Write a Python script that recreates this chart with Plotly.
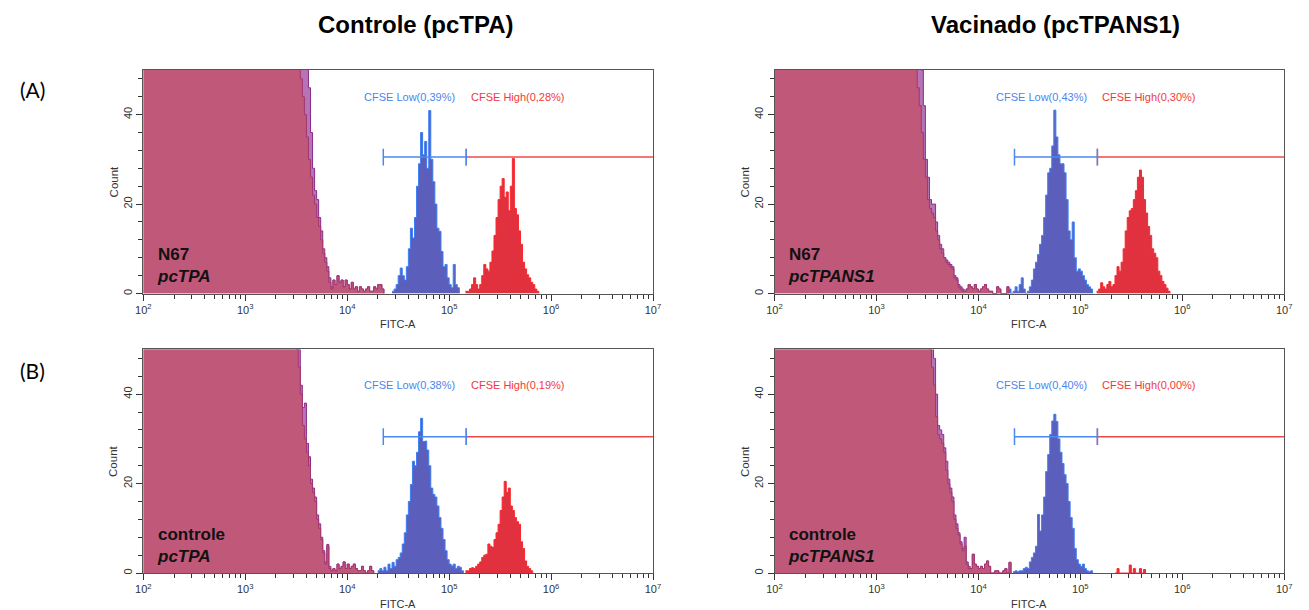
import plotly.graph_objects as go

# ---------------------------------------------------------------- data
BIN_STEP = 0.02          # width of one FITC channel, in log10 units
OFFSCALE = 400           # counts left of the steep edge are far above the 50-count axis

COLUMN_TITLES = ["Controle (pcTPA)", "Vacinado (pcTPANS1)"]
ROW_LABELS = ["(A)", "(B)"]
SAMPLES = ["N67", "N67", "controle", "controle"]
PLASMIDS = ["pcTPA", "pcTPANS1", "pcTPA", "pcTPANS1"]
LOW_PCT = ["0,39%", "0,43%", "0,38%", "0,40%"]
HIGH_PCT = ["0,28%", "0,30%", "0,19%", "0,00%"]

GATE_LOW_FROM = 22600
GATE_SPLIT = 147000
GATE_HIGH_TO = 1e7
GATE_COUNT = 30.5

X_TICKS = [1e2, 1e3, 1e4, 1e5, 1e6, 1e7]
X_TICK_TEXT = ["10<sup>2</sup>", "10<sup>3</sup>", "10<sup>4</sup>",
               "10<sup>5</sup>", "10<sup>6</sup>", "10<sup>7</sup>"]
Y_TICKS = [0, 20, 40]

# Panel A / pcTPA
A1_BG_START = 3.48
A1_BG_MAROON = [60, 57, 52, 48, 44, 40, 35, 30, 26, 22, 20, 17, 15, 12, 9, 7, 5, 2.5, 1]
A1_BG_PURPLE = [60, 58, 57, 56, 55, 53, 51, 46, 36, 28, 23, 21, 17, 14, 10, 8, 6, 3.5, 1.5]
A1_BG_TAIL = [3, 2, 4, 2.5, 3, 1.5, 3, 2, 1, 2.5, 1, 1.5, 0.5, 1.5, 1, 0.5, 1, 1.5, 0.5,
              0.5, 1.5, 1, 2, 2, 1, 0]
A1_LOW_START = 4.44
A1_LOW = [0.5, 1, 2, 4, 5.7, 4, 3, 6, 10, 14.6, 12.4, 17, 24, 29, 36, 31, 34, 28, 40.9, 30,
          25, 20, 14.6, 13.9, 9.4, 6, 6.5, 3.5, 2, 1.3, 6.5, 2, 1.3, 0]
A1_HIGH_START = 5.16
A1_HIGH = [0.5, 0.5, 1, 2, 3.5, 2, 1, 2, 4, 6.5, 5.5, 5, 7, 9.5, 13, 17, 21, 24, 25.7, 21.5,
           22.7, 18.5, 24, 30.2, 19, 17.6, 14, 11, 7, 5.5, 4.2, 3.5, 2.5, 2, 1, 0.5, 0]

# Panel A / pcTPANS1
A2_BG_START = 3.34
A2_BG_MAROON = [60, 56, 52, 46, 42, 36, 30, 26, 21, 19, 18, 17, 14, 12, 10, 9, 8, 7, 6.5,
                6, 5.5, 3.5, 3, 1.5, 1, 0.5]
A2_BG_PURPLE = [60, 58, 56, 54, 52, 50, 42, 30, 26, 21, 20, 20, 16, 13, 11, 10, 8, 7.5, 7,
                6.5, 6, 4, 3.5, 2, 1.5, 1]
A2_BG_TAIL = [0.5, 1, 2, 1.5, 1, 2, 1, 0.5, 1, 1.5, 2, 1, 0.5, 0.5, 0, 0, 1.5, 1, 0, 0, 0,
              1.5, 0]
A2_LOW_START = 4.30
A2_LOW = [1, 0, 0.5, 1.5, 0.5, 2, 3.5, 1, 0, 0.5, 1.5, 3, 5.5, 7, 8.7, 11, 13, 17, 22, 27,
          28, 33, 41, 35, 31, 29, 29, 27, 21, 14, 12, 16, 8, 5, 5.5, 5, 4, 3, 2, 1.5, 1, 0]
A2_HIGH_START = 5.16
A2_HIGH = [0.5, 1, 2.4, 1.5, 1, 2, 2.7, 1.5, 2, 4, 6, 5, 7, 10, 14, 17, 18.5, 19, 21, 23,
           26, 27.6, 26, 21, 18, 15, 13, 10, 9, 8, 5, 4, 2.7, 2, 1.2, 0.5, 0]

# Panel B / pcTPA
B1_BG_START = 3.48
B1_BG_MAROON = [60, 50, 46, 40, 33, 30, 27, 24, 20, 18, 16, 12, 10, 7.5, 4.5, 2, 6, 1, 0.5]
B1_BG_PURPLE = [60, 55, 50, 42, 37, 38, 29, 26, 21, 19, 17, 13, 11, 8, 5, 2.5, 6.4, 1.5, 0.5]
B1_BG_TAIL = [1, 0.5, 2, 1, 1.5, 2.5, 1, 2, 1, 1.5, 2, 1, 0.5, 0.5, 1.5, 0.5, 0, 0.5, 1.5,
              0.5, 0]
B1_LOW_START = 4.30
B1_LOW = [0.5, 1, 0.5, 1.3, 0.5, 2, 1, 2.4, 1.5, 3, 3.5, 4.5, 6.5, 9, 13, 16, 19.8, 25, 24,
          27, 31.6, 34.6, 29.4, 29.5, 27.5, 24, 19, 17.6, 17, 15, 12.4, 10, 7.5, 5, 3, 2,
          1.6, 2, 1, 1.5, 1.3, 0.5, 0]
B1_HIGH_START = 5.16
B1_HIGH = [0.5, 0.5, 1, 1.2, 1, 1.5, 2, 2.5, 3.5, 4, 4.2, 6.5, 6, 5.7, 7.5, 9, 10.9, 14, 17,
           20.5, 18, 19, 15, 14, 12.4, 11.5, 10.9, 7, 5.5, 2.7, 1.5, 1, 0.5, 0]

# Panel B / pcTPANS1
B2_BG_START = 3.48
B2_BG_MAROON = [60, 60, 50, 46, 42, 35, 31, 30, 29, 27, 23, 20, 18, 16, 12, 10, 8.5, 6.5, 5,
                6, 2, 1]
B2_BG_PURPLE = [60, 60, 54, 52, 48, 40, 33, 32, 31, 28, 25, 21, 19, 17, 13, 11, 9, 7, 5.5,
                8, 2.5, 1.5]
B2_BG_TAIL = [1, 4.2, 2, 1.5, 1, 1.5, 1, 2, 2.7, 1.5, 0, 0, 0.5, 0.5, 0, 0, 0.5, 1, 0, 2.4, 0]
B2_LOW_START = 4.34
B2_LOW = [0.3, 0.5, 0.3, 0.5, 0.5, 1, 1.3, 1, 2.5, 3.5, 4.5, 6, 13.1, 9.4, 13, 17, 22.7,
          26.5, 31, 34, 35.5, 33.9, 30, 27, 24.5, 22, 20, 16, 12.4, 10, 5.5, 3, 2, 1.5, 2, 1,
          0.5, 0.3, 0.5, 0]
B2_HIGH_START = 5.34
B2_HIGH = [0, 1, 0, 0, 0, 0, 0, 1.8, 0, 1, 0, 0, 1, 0, 0.8, 0]

PANEL_DATA = [
    (A1_BG_START, A1_BG_MAROON, A1_BG_PURPLE, A1_BG_TAIL, A1_LOW_START, A1_LOW, A1_HIGH_START, A1_HIGH),
    (A2_BG_START, A2_BG_MAROON, A2_BG_PURPLE, A2_BG_TAIL, A2_LOW_START, A2_LOW, A2_HIGH_START, A2_HIGH),
    (B1_BG_START, B1_BG_MAROON, B1_BG_PURPLE, B1_BG_TAIL, B1_LOW_START, B1_LOW, B1_HIGH_START, B1_HIGH),
    (B2_BG_START, B2_BG_MAROON, B2_BG_PURPLE, B2_BG_TAIL, B2_LOW_START, B2_LOW, B2_HIGH_START, B2_HIGH),
]

# ---------------------------------------------------------------- layout / style
W, H = 1309, 610
FONT = "Liberation Sans, Arial, sans-serif"
COL_X = [(137, 653), (776, 1292)]      # pixel extents of the plot areas
ROW_Y = [(70, 294), (350, 574)]

C_MAROON_FILL = "#c0587a"
C_MAROON_LINE = "#a3356f"
C_PURPLE_FILL = "#b574b6"
C_PURPLE_LINE = "#8a2c8c"
C_BLUE_FILL = "#5b5fbb"
C_BLUE_LINE = "#3d7ef2"
C_RED_FILL = "#e1303e"
C_RED_LINE = "#f7282e"
C_GATE_BLUE = "#4a88f2"
C_GATE_RED = "#f04848"
C_TXT_BLUE = "#4a86ee"
C_TXT_RED = "#f03a3a"


def channels(start, counts):
    return [10 ** (start + i * BIN_STEP) for i in range(len(counts))]


fig = go.Figure()

minor_x = [k * 10 ** d for d in range(2, 7) for k in range(2, 10)]

for p, (bg_start, maroon, purple, tail, lo_start, lo, hi_start, hi) in enumerate(PANEL_DATA):
    row, col = divmod(p, 2)
    suffix = "" if p == 0 else str(p + 1)
    xa, ya = "x" + suffix, "y" + suffix
    x0, x1 = COL_X[col]
    y0, y1 = ROW_Y[row]

    bg_x = [10 ** 2] + channels(bg_start, maroon + tail)
    for counts, fill, line in ((purple, C_PURPLE_FILL, C_PURPLE_LINE),
                               (maroon, C_MAROON_FILL, C_MAROON_LINE)):
        fig.add_trace(go.Scatter(
            x=bg_x, y=[OFFSCALE] + counts + tail, xaxis=xa, yaxis=ya,
            mode="lines", line=dict(shape="hv", color=line, width=1),
            fill="tozeroy", fillcolor=fill, hoverinfo="skip", showlegend=False))

    fig.add_trace(go.Scatter(
        x=channels(lo_start, lo), y=lo, xaxis=xa, yaxis=ya, mode="lines",
        line=dict(shape="hv", color=C_BLUE_LINE, width=1),
        fill="tozeroy", fillcolor=C_BLUE_FILL, showlegend=False))
    fig.add_trace(go.Scatter(
        x=channels(hi_start, hi), y=hi, xaxis=xa, yaxis=ya, mode="lines",
        line=dict(shape="hv", color=C_RED_LINE, width=1),
        fill="tozeroy", fillcolor=C_RED_FILL, showlegend=False))

    # gates
    fig.add_trace(go.Scatter(
        x=[GATE_SPLIT, GATE_HIGH_TO], y=[GATE_COUNT, GATE_COUNT], xaxis=xa, yaxis=ya,
        mode="lines+markers", line=dict(color=C_GATE_RED, width=1.5),
        marker=dict(symbol="line-ns", size=[12, 0], line=dict(width=1.5, color=C_GATE_RED)),
        showlegend=False))
    fig.add_trace(go.Scatter(
        x=[GATE_LOW_FROM, GATE_SPLIT], y=[GATE_COUNT, GATE_COUNT], xaxis=xa, yaxis=ya,
        mode="lines+markers", line=dict(color=C_GATE_BLUE, width=1.5),
        marker=dict(symbol="line-ns", size=12, line=dict(width=1.5, color=C_GATE_BLUE)),
        showlegend=False))

    xdom = [x0 / W, x1 / W]
    ydom = [1 - y1 / H, 1 - y0 / H]
    fig.update_layout(**{
        "xaxis" + suffix: dict(
            domain=xdom, anchor=ya, type="log", range=[2, 7],
            tickmode="array", tickvals=X_TICKS, ticktext=X_TICK_TEXT,
            ticks="outside", ticklen=6, tickwidth=1, tickcolor="#333",
            minor=dict(tickmode="array", tickvals=minor_x, ticks="outside",
                       ticklen=4, tickcolor="#333", showgrid=False),
            showline=True, linecolor="#555", linewidth=1, mirror=True,
            showgrid=False, zeroline=False,
            tickfont=dict(family=FONT, size=11, color="#333")),
        "yaxis" + suffix: dict(
            domain=ydom, anchor=xa, range=[0, 50],
            tickmode="array", tickvals=Y_TICKS, tickangle=-90,
            ticks="outside", ticklen=6, tickwidth=1, tickcolor="#333",
            minor=dict(dtick=4, tick0=0, ticks="outside", ticklen=4,
                       tickcolor="#333", showgrid=False),
            showline=True, linecolor="#555", linewidth=1, mirror=True,
            showgrid=False, zeroline=False,
            tickfont=dict(family=FONT, size=11, color="#333")),
    })

    dref = xa + " domain"
    yref = ya + " domain"
    lab_y = 0.88 if row == 0 else 0.84
    fig.add_annotation(text="CFSE Low(" + LOW_PCT[p] + ")", xref=dref, yref=yref,
                       x=0.430, y=lab_y, xanchor="left", yanchor="middle", showarrow=False,
                       font=dict(family=FONT, size=11, color=C_TXT_BLUE))
    fig.add_annotation(text="CFSE High(" + HIGH_PCT[p] + ")", xref=dref, yref=yref,
                       x=0.638, y=lab_y, xanchor="left", yanchor="middle", showarrow=False,
                       font=dict(family=FONT, size=11, color=C_TXT_RED))
    fig.add_annotation(text="<b>" + SAMPLES[p] + "</b><br><b><i>" + PLASMIDS[p] + "</i></b>",
                       xref=dref, yref=yref, x=0.022, y=0.125, xanchor="left",
                       yanchor="middle", align="left", showarrow=False,
                       font=dict(family=FONT, size=17, color="#111"))
    fig.add_annotation(text="FITC-A", xref=dref, yref="paper", x=0.5,
                       y=1 - (y1 + 31) / H, xanchor="center", yanchor="middle",
                       showarrow=False, font=dict(family=FONT, size=11, color="#333"))
    fig.add_annotation(text="Count", xref="paper", yref=yref, x=(x0 - 30) / W, y=0.5,
                       textangle=-90, xanchor="center", yanchor="middle",
                       showarrow=False, font=dict(family=FONT, size=11.5, color="#333"))

for c, title in enumerate(COLUMN_TITLES):
    cx = [413, 1060][c]
    fig.add_annotation(text="<b>" + title + "</b>", xref="paper", yref="paper",
                       x=cx / W, y=1 - 25 / H, xanchor="center", yanchor="middle",
                       showarrow=False, font=dict(family=FONT, size=24, color="#000"))
for r, lab in enumerate(ROW_LABELS):
    cy = [90, 371][r]
    fig.add_annotation(text=lab, xref="paper", yref="paper", x=25 / W, y=1 - cy / H,
                       xanchor="center", yanchor="middle", showarrow=False,
                       font=dict(family="Lato, Open Sans, sans-serif", size=21, color="#000"))

fig.update_layout(width=W, height=H, margin=dict(l=0, r=0, t=0, b=0),
                  paper_bgcolor="white", plot_bgcolor="white", showlegend=False)

fig.write_html("out.html",
               post_script="document.body.style.margin='0';"
                           "document.body.style.overflow='hidden';")
